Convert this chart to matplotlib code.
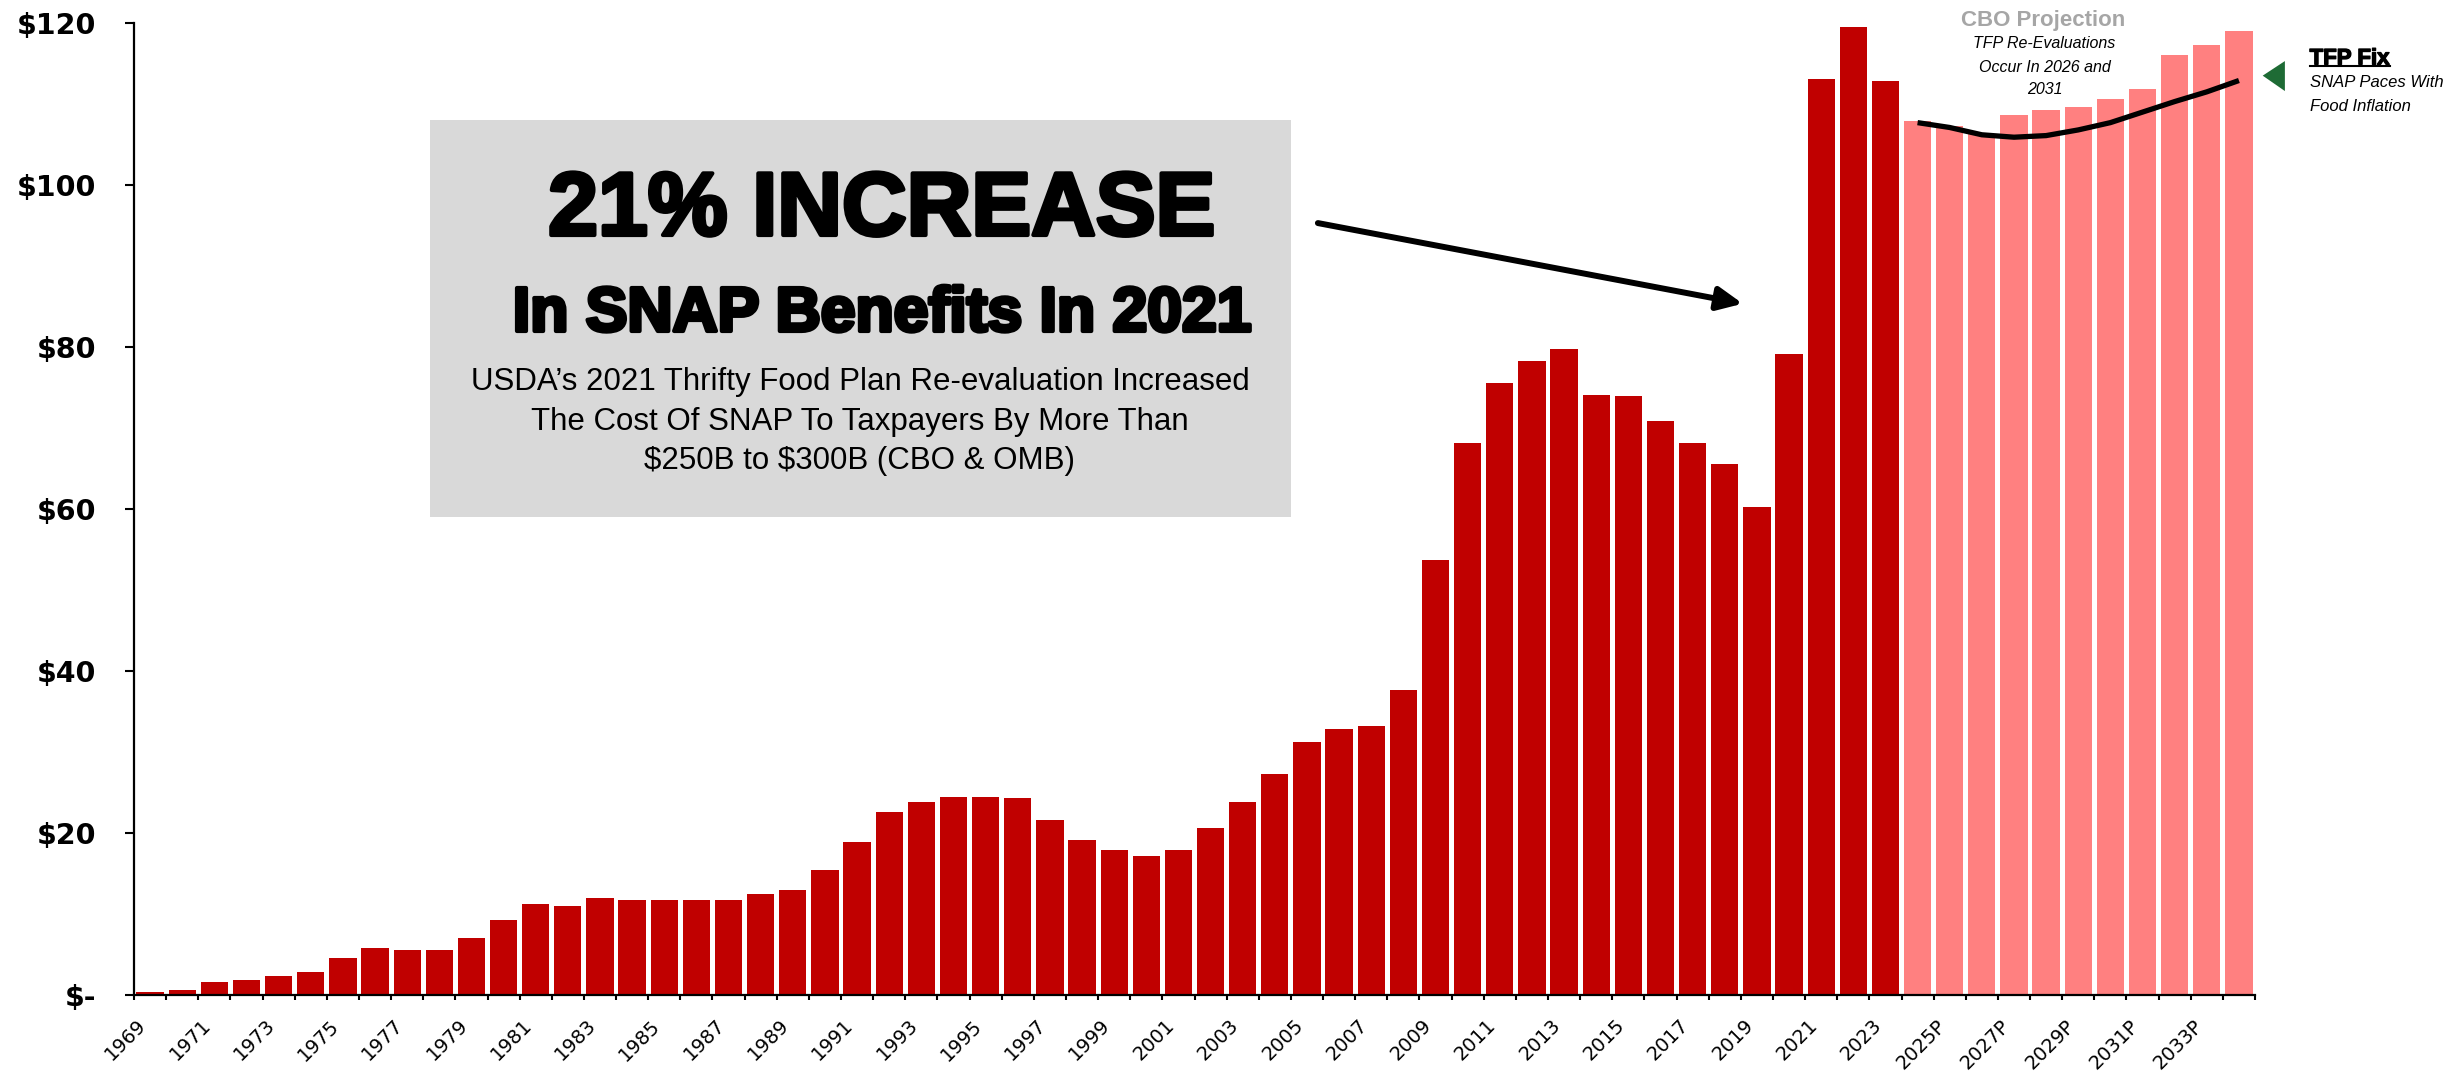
import matplotlib
matplotlib.use('Agg')
import matplotlib.pyplot as plt
import numpy as np
from matplotlib import patheffects
from matplotlib.patches import Rectangle, Polygon
from matplotlib.lines import Line2D

# SNAP spending, $ billions
years_actual = [str(y) for y in range(1969, 2024)]
years_proj = [f'{y}P' for y in range(2024, 2035)]
actual = [0.35, 0.6, 1.6, 1.85, 2.3, 2.8, 4.6, 5.8, 5.55, 5.55,
          7.0, 9.25, 11.2, 11.0, 12.0, 11.7, 11.7, 11.7, 11.7, 12.5,
          12.95, 15.4, 18.9, 22.6, 23.8, 24.5, 24.5, 24.3, 21.6, 19.1,
          17.9, 17.1, 17.9, 20.6, 23.8, 27.3, 31.2, 32.9, 33.2, 37.6,
          53.65, 68.2, 75.6, 78.3, 79.8, 74.1, 73.9, 70.9, 68.2, 65.5,
          60.3, 79.1, 113.1, 119.5, 112.8]
projected = [107.9, 107.3, 106.3, 108.7, 109.2, 109.6, 110.6, 111.9, 116.1, 117.3, 119.0]
tfp_fix = [107.7, 107.1, 106.2, 105.9, 106.1, 106.8, 107.7, 109.0, 110.3, 111.5, 112.9]

y_ticks = [0, 20, 40, 60, 80, 100, 120]
y_labels = ['$-', '$20', '$40', '$60', '$80', '$100', '$120']

DARK = '#C00000'
PINK = '#FF8080'
W, H = 2451, 1071


def fxy(px, py):
    # reference pixel -> figure fraction
    return px / W, 1 - py / H


fig = plt.figure(figsize=(W / 100, H / 100), dpi=100)
ax = fig.add_axes([134 / W, 1 - 995 / H, 2121 / W, 972 / H])

labels = years_actual + years_proj
x_act = np.arange(len(actual))
x_proj = np.arange(len(actual), len(labels))
ax.bar(x_act, actual, width=0.85, color=DARK, zorder=2)
ax.bar(x_proj, projected, width=0.85, color=PINK, zorder=2)
ax.plot(x_proj, tfp_fix, color='black', lw=3.8, zorder=3, solid_capstyle='butt')

ax.set_xlim(-0.5, len(labels) - 0.5)
ax.set_ylim(0, 120)
for s in ['top', 'right']:
    ax.spines[s].set_visible(False)
for s in ['left', 'bottom']:
    ax.spines[s].set_linewidth(1.6)

ax.set_yticks(y_ticks)
ax.set_yticklabels(y_labels, fontsize=20.5, fontweight='bold', family='DejaVu Sans')
ax.tick_params(axis='y', length=6.5, width=1.5, pad=21)

ax.set_xticks(np.arange(0, len(labels), 2))
ax.set_xticklabels(labels[::2], rotation=45, ha='right', fontsize=14, family='DejaVu Sans')
ax.set_xticks(np.arange(-0.5, len(labels), 1), minor=True)
ax.tick_params(axis='x', which='major', length=0, pad=15)
ax.tick_params(axis='x', which='minor', length=3.8, width=1.5)

# callout box
x0, y0 = fxy(430, 517)
ax.add_patch(Rectangle((x0, y0), 861 / W, 397 / H, transform=fig.transFigure,
                       facecolor='#D9D9D9', edgecolor='none', zorder=1, clip_on=False))
heavy = [patheffects.withStroke(linewidth=3, foreground='black')]
fig.text(*fxy(882, 235), '21% INCREASE', ha='center', va='baseline', fontsize=64.5,
         fontweight='bold', family='Liberation Sans', path_effects=heavy)
fig.text(*fxy(882, 331), 'In SNAP Benefits In 2021', ha='center', va='baseline', fontsize=45,
         fontweight='bold', family='Liberation Sans', path_effects=heavy)
sub = ['USDA\u2019s 2021 Thrifty Food Plan Re-evaluation Increased',
       'The Cost Of SNAP To Taxpayers By More Than',
       '\\$250B to \\$300B (CBO & OMB)']
for line, base in zip(sub, [390, 430, 469]):
    fig.text(*fxy(860, base), line, ha='center', va='baseline', fontsize=22.5,
             family='Liberation Sans')

ax.annotate('', xy=(49.56, 85.35), xytext=(36.34, 95.3),
            arrowprops=dict(arrowstyle='-|>,head_length=0.75,head_width=0.35', lw=4.3,
                            color='black', mutation_scale=20, shrinkA=0, shrinkB=0),
            annotation_clip=False)

# projection notes
ax.text(58.9, 119.6, 'CBO Projection', ha='center', va='baseline', fontsize=16,
        fontweight='bold', color='#A6A6A6', family='Liberation Sans', clip_on=False)
for line, yb in zip(['TFP Re-Evaluations', 'Occur In 2026 and', '2031'], [116.9, 114.0, 111.25]):
    ax.text(58.95, yb, line, ha='center', va='baseline', fontsize=11.5, style='italic',
            family='Liberation Sans', clip_on=False)

ax.add_patch(Polygon([(65.74, 113.5), (66.43, 115.3), (66.43, 111.6)], closed=True,
                     facecolor='#1E6B35', edgecolor='none', clip_on=False))
fix_t = ax.text(67.2, 114.9, 'TFP Fix', ha='left', va='baseline', fontsize=16,
                fontweight='bold', family='Liberation Sans', clip_on=False,
                path_effects=[patheffects.withStroke(linewidth=1, foreground='black')])
ax.text(67.2, 112.1, 'SNAP Paces With', ha='left', va='baseline', fontsize=12,
        style='italic', family='Liberation Sans', clip_on=False)
ax.text(67.2, 109.15, 'Food Inflation', ha='left', va='baseline', fontsize=12,
        style='italic', family='Liberation Sans', clip_on=False)

# underline for "TFP Fix"
fig.canvas.draw()
bb = fix_t.get_window_extent().transformed(fig.transFigure.inverted())
uy = fxy(0, 66)[1]
fig.add_artist(Line2D([bb.x0, bb.x1], [uy, uy], transform=fig.transFigure,
                      color='black', lw=1.5))

fig.savefig('out.png', dpi=100)
